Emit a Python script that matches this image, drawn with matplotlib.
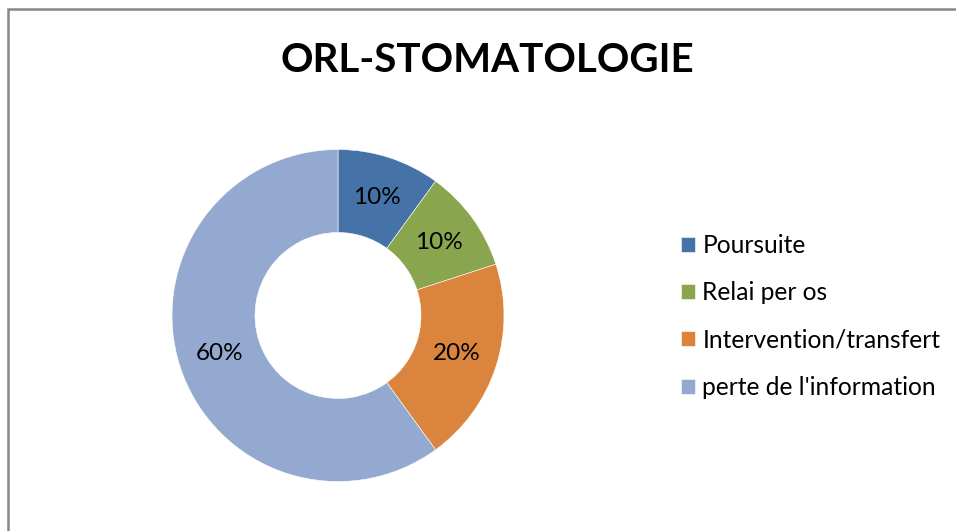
import matplotlib.pyplot as plt
from matplotlib.patches import Rectangle

titre = 'ORL-STOMATOLOGIE'
categories = ['Poursuite', 'Relai per os', 'Intervention/transfert', "perte de l'information"]
valeurs = [10, 10, 20, 60]
couleurs = ['#4572A7', '#89A54E', '#DB843D', '#93A9CF']

plt.rcParams['font.family'] = ['Lato', 'DejaVu Sans']

W, H = 956, 531
fig = plt.figure(figsize=(W / 100, H / 100), dpi=100)

# cadre gris (bord gauche et haut seulement visibles)
fig.patches.append(Rectangle((7.5 / W, -0.1), 1.2, (H - 9) / H + 0.1, transform=fig.transFigure,
                             fill=False, edgecolor='#878787', linewidth=1.8))

cx, cy, r = 338, H - 315.5, 166
ax = fig.add_axes([(cx - r) / W, (cy - r) / H, 2 * r / W, 2 * r / H])
wedges, _, autotexts = ax.pie(valeurs, colors=couleurs, startangle=90, counterclock=False,
                              radius=1, autopct='%1.0f%%', pctdistance=0.75,
                              wedgeprops=dict(width=0.5, edgecolor='white', linewidth=0.4),
                              textprops=dict(fontsize=17.5, color='black'))
ax.set_xlim(-1, 1)
ax.set_ylim(-1, 1)
ax.set_aspect('equal')
ax.axis('off')

fig.text(487 / W, 1 - 61 / H, titre, ha='center', va='center', fontsize=29, fontweight='bold')

fig.legend(wedges, categories, loc='upper left', bbox_to_anchor=(671 / W, 1 - 224 / H),
           frameon=False, fontsize=17.7, handlelength=0.58, handleheight=0.58,
           handletextpad=0.3, labelspacing=0.99, borderaxespad=0)

fig.savefig('out.png', dpi=100, facecolor='white')
